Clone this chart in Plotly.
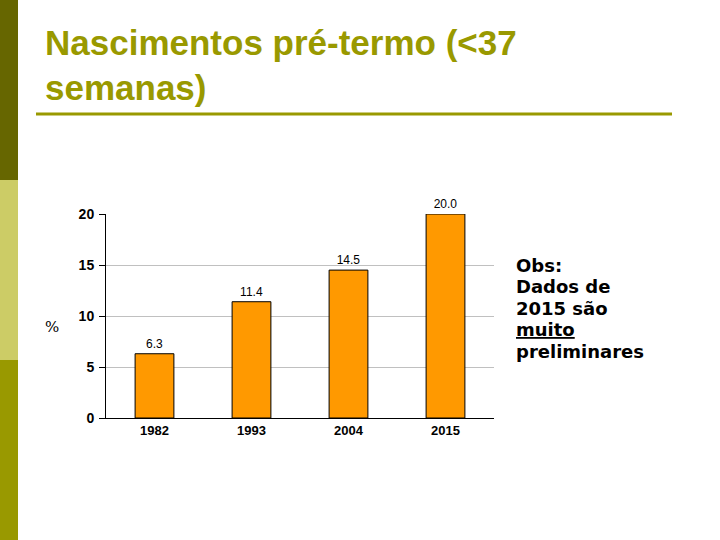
import plotly.graph_objects as go

# data
years = ["1982", "1993", "2004", "2015"]
pct = [6.3, 11.4, 14.5, 20.0]
y_ticks = [0, 5, 10, 15, 20]

TITLE_COLOR = "#999900"
BAR_COLOR = "#FF9900"

fig = go.Figure(go.Bar(
    x=years,
    y=pct,
    width=0.4,
    marker=dict(color=BAR_COLOR, line=dict(color="#000000", width=1)),
    text=[f"{v:.1f}" for v in pct],
    textposition="outside",
    textfont=dict(family="Liberation Sans, Arial", size=12, color="#000000"),
    cliponaxis=False,
))

fig.update_layout(
    width=720, height=540,
    paper_bgcolor="white", plot_bgcolor="white",
    margin=dict(l=106, r=226, t=214, b=122),
    showlegend=False,
    xaxis=dict(
        showline=True, linecolor="#000000", linewidth=1,
        tickfont=dict(family="Liberation Sans, Arial", size=13, color="#000000", weight="bold"),
        ticks="", fixedrange=True,
    ),
    yaxis=dict(
        range=[0, 20], tickvals=y_ticks,
        showline=True, linecolor="#000000", linewidth=1,
        showgrid=True, gridcolor="#c0c0c0", gridwidth=1,
        ticks="outside", ticklen=6, tickcolor="#000000",
        tickfont=dict(family="Liberation Sans, Arial", size=14, color="#000000", weight="bold"),
        ticklabelstandoff=2,
        zeroline=False, fixedrange=True,
    ),
)

# layout helpers in paper coords
pl, pr, pt, pb = 106, 494, 214, 418
pw, ph = pr - pl, pb - pt


def px_x(x):
    return (x - pl) / pw


def px_y(y):
    return (pb - y) / ph


shapes = [
    dict(type="rect", x0=px_x(0), x1=px_x(18), y0=px_y(0), y1=px_y(180),
         fillcolor="#666600", line_width=0),
    dict(type="rect", x0=px_x(0), x1=px_x(18), y0=px_y(180), y1=px_y(360),
         fillcolor="#CCCC66", line_width=0),
    dict(type="rect", x0=px_x(0), x1=px_x(18), y0=px_y(360), y1=px_y(540),
         fillcolor="#999900", line_width=0),
    dict(type="line", x0=px_x(36), x1=px_x(672), y0=px_y(114), y1=px_y(114),
         line=dict(color=TITLE_COLOR, width=3)),
]
for s in shapes:
    s.update(xref="paper", yref="paper")
fig.update_layout(shapes=shapes)

title_font = dict(family="Liberation Sans, Arial", size=35, color=TITLE_COLOR, weight="bold")
obs_font = dict(family="DejaVu Sans, Verdana", size=18, color="#000000", weight="bold")
obs_lines = ["Obs:", "Dados de", "2015 são", "<u>muito</u>", "preliminares"]

annotations = [
    dict(text="Nascimentos pré-termo (<37", x=px_x(43), y=px_y(42),
         xanchor="left", yanchor="middle", showarrow=False, font=title_font),
    dict(text="semanas)", x=px_x(43), y=px_y(87),
         xanchor="left", yanchor="middle", showarrow=False, font=title_font),
    dict(text="%", x=px_x(52), y=px_y(327), xanchor="center", yanchor="middle",
         showarrow=False, font=dict(family="DejaVu Serif, serif", size=15, color="#000000")),
]
for i, line in enumerate(obs_lines):
    annotations.append(dict(text=line, x=px_x(514), y=px_y(265 + 21.5 * i),
                            xanchor="left", yanchor="middle", showarrow=False,
                            font=obs_font))
for a in annotations:
    a.update(xref="paper", yref="paper")
fig.update_layout(annotations=annotations)

fig.write_html("out.html", config={"displayModeBar": False},
               post_script="document.body.style.margin='0px';")
